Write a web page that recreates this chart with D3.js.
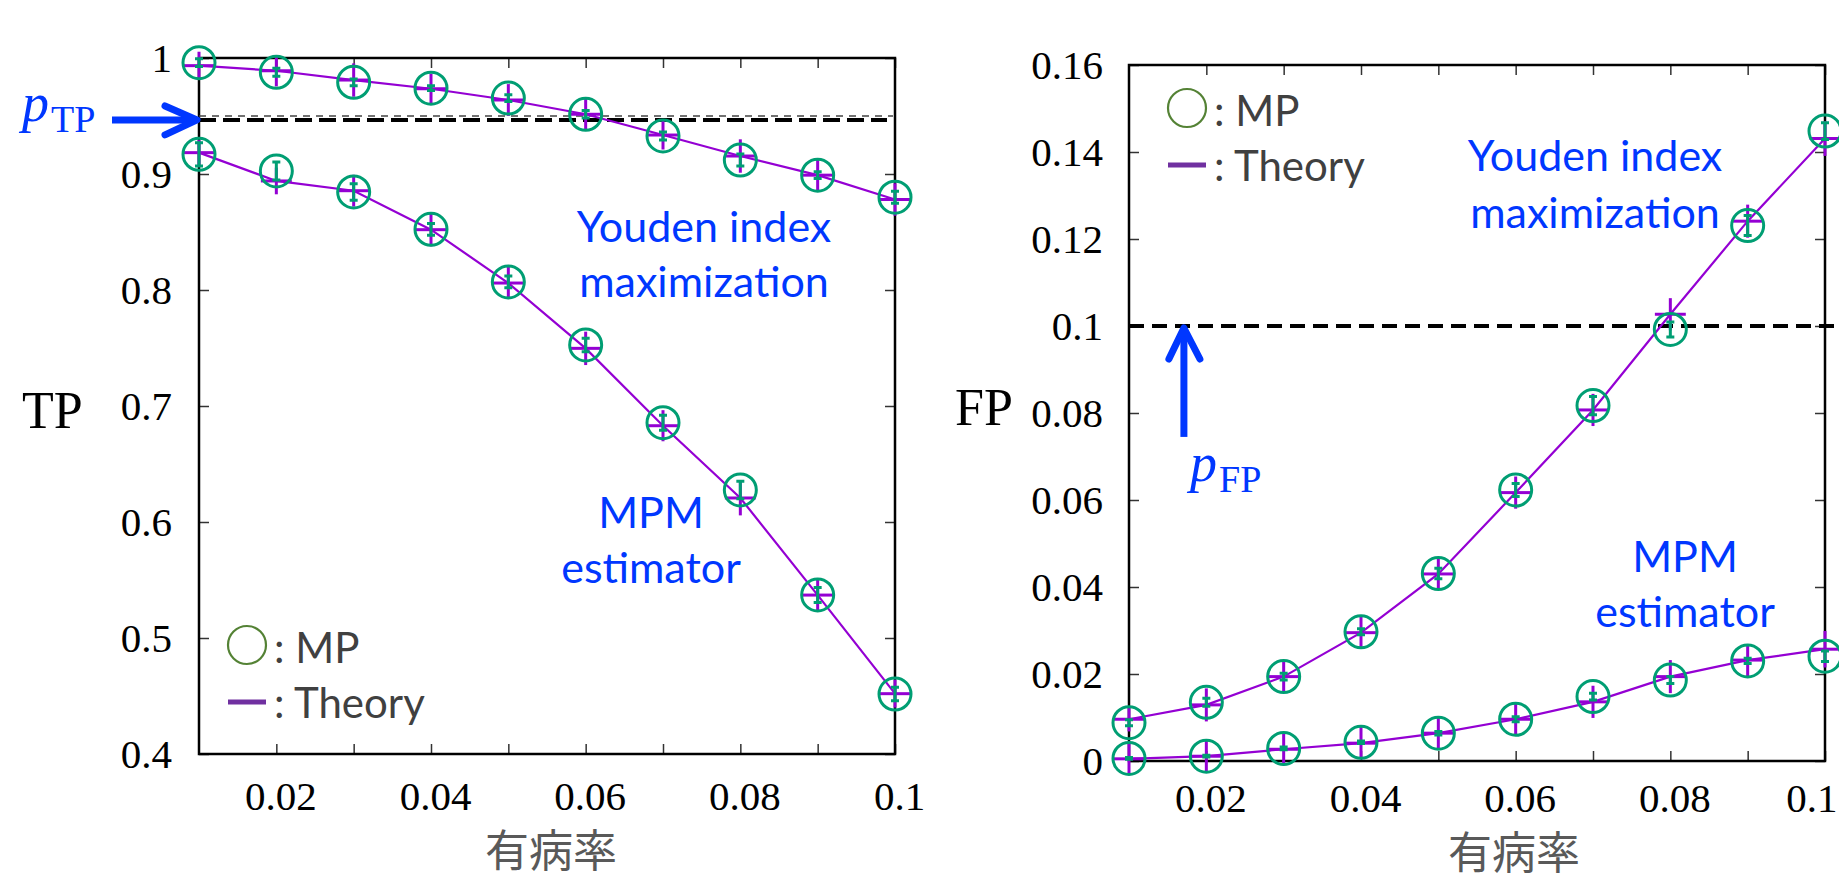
<!DOCTYPE html>
<html><head><meta charset="utf-8">
<script src="https://cdn.jsdelivr.net/npm/d3@7"></script>
<style>body{margin:0;background:#fff} svg{display:block}</style>
</head><body><svg id="c" width="1839" height="883"></svg>
<script>
// ---------- data ----------
const prevalence = [0.01,0.02,0.03,0.04,0.05,0.06,0.07,0.08,0.09,0.10];
const xTickValues = [0.02,0.03,0.04,0.05,0.06,0.07,0.08,0.09,0.1];
const xLabelValues = [0.02,0.04,0.06,0.08,0.1];
const tpTicks = [0.4,0.5,0.6,0.7,0.8,0.9,1];
const fpTicks = [0,0.02,0.04,0.06,0.08,0.1,0.12,0.14,0.16];
const xAxisTitle = "有病率";
const theoryXErr = 0.002;
const pTP = 0.95, pTPmarked = 0.9466, pFP = 0.1;

// TP – Youden index maximization
const tpYoudenMP        = [0.996,0.9877,0.979,0.974,0.9655,0.9515,0.9328,0.912,0.899,0.880];
const tpYoudenMPErr     = [0.0034,0.0034,0.0029,0.002,0.0029,0.0032,0.0034,0.0052,0.0029,0.0052];
const tpYoudenTheory    = [0.9934,0.989,0.981,0.9735,0.9638,0.9515,0.9336,0.9155,0.899,0.878];
const tpYoudenTheoryErr = [0.012,0.0135,0.0144,0.013,0.0137,0.0137,0.0125,0.0144,0.014,0.014];
// TP – MPM estimator
const tpMpmMP        = [0.917,0.9026,0.8845,0.8523,0.807,0.7526,0.6856,0.6276,0.5371,0.4517];
const tpMpmMPErr     = [0.01,0.0078,0.0072,0.005,0.005,0.0058,0.0065,0.0075,0.0065,0.0058];
const tpMpmTheory    = [0.9184,0.894,0.8856,0.852,0.806,0.7497,0.683,0.6207,0.537,0.452];
const tpMpmTheoryErr = [0.0108,0.0115,0.0137,0.0144,0.0138,0.0144,0.0134,0.015,0.013,0.012];
// FP – Youden index maximization
const fpYoudenMP        = [0.0088,0.0135,0.0194,0.0297,0.0431,0.0623,0.0817,0.0992,0.1231,0.1448];
const fpYoudenMPErr     = [0.0007,0.0009,0.0008,0.0007,0.0012,0.0015,0.0021,0.0017,0.0023,0.0019];
const fpYoudenTheory    = [0.0096,0.0129,0.0194,0.0295,0.043,0.0617,0.0807,0.1027,0.1241,0.1431];
const fpYoudenTheoryErr = [0.0028,0.0038,0.0037,0.0037,0.0037,0.0037,0.0037,0.0037,0.0038,0.004];
// FP – MPM estimator
const fpMpmMP        = [0.0006,0.0011,0.0029,0.0043,0.0064,0.0096,0.0148,0.0186,0.0230,0.0241];
const fpMpmMPErr     = [0.0002,0.0002,0.0003,0.0003,0.0004,0.0006,0.0008,0.0008,0.0006,0.0012];
const fpMpmTheory    = [0.0005,0.0011,0.0027,0.0041,0.0064,0.0096,0.0136,0.0194,0.0232,0.0257];
const fpMpmTheoryErr = [0.0037,0.0037,0.0037,0.0037,0.0037,0.0037,0.0037,0.0038,0.0037,0.0042];

// ---------- styles ----------
const PURPLE = "#9400d3", GREEN = "#009e73", BLUE = "#0037ff";
const SERIF = "'Liberation Serif','Times New Roman',serif";
const SANS = "Lato,'Open Sans',sans-serif";
const svg = d3.select("#c");
svg.append("rect").attr("width",1839).attr("height",883).attr("fill","#fff");

function panel(cfg){
  const x = d3.scaleLinear().domain([0.01,0.1]).range(cfg.xr);
  const y = d3.scaleLinear().domain(cfg.dom).range(cfg.yr);
  const g = svg.append("g");
  const [X0,X1] = cfg.xr, [Y1,Y0] = cfg.yr;

  // axes (inward ticks)
  const fmt = d => xLabelValues.some(v=>Math.abs(v-d)<1e-9) ? d3.format("")(+d.toFixed(2)) : "";
  const ax = g.append("g").attr("transform",`translate(0,${Y1})`)
    .call(d3.axisBottom(x).tickValues(xTickValues).tickSize(-10).tickSizeOuter(0).tickFormat(fmt));
  ax.selectAll("text").attr("y",cfg.xLabY).attr("dy",0).attr("dx",4);
  if (cfg.lastLabelEnd) {
    ax.selectAll(".tick").filter(d=>Math.abs(d-0.1)<1e-9).select("text")
      .attr("text-anchor","end").attr("dx",0).attr("x",cfg.lastLabelEnd - x(0.1));
  }
  g.append("g").attr("transform",`translate(0,${Y0})`)
    .call(d3.axisTop(x).tickValues(xTickValues).tickSize(-10).tickSizeOuter(0).tickFormat(""));
  const ay = g.append("g").attr("transform",`translate(${X0},0)`)
    .call(d3.axisLeft(y).tickValues(cfg.ticks).tickSize(-10).tickSizeOuter(0).tickFormat(d=>d3.format("")(+d.toFixed(2))));
  ay.selectAll("text").attr("x",cfg.labX).attr("dy","0.34em");
  g.append("g").attr("transform",`translate(${X1},0)`)
    .call(d3.axisRight(y).tickValues(cfg.ticks).tickSize(-10).tickSizeOuter(0).tickFormat(""));
  g.selectAll(".domain").remove();
  g.selectAll(".tick line").attr("stroke","#333").attr("stroke-width",1.5);
  g.selectAll(".tick text").attr("font-family",SERIF).attr("font-size",41).attr("fill","#000");
  g.append("rect").attr("x",X0).attr("y",Y0).attr("width",X1-X0).attr("height",Y1-Y0)
    .attr("fill","none").attr("stroke","#000").attr("stroke-width",2.5);

  // reference dashed lines
  cfg.refs.forEach(r=>{
    g.append("line").attr("x1",X0).attr("x2",r.x2).attr("y1",y(r.v)).attr("y2",y(r.v))
      .attr("stroke",r.color).attr("stroke-width",r.w).attr("stroke-dasharray",r.dash);
  });

  // series
  cfg.series.forEach(s=>{
    const pts = prevalence.map((p,i)=>({p, th:s.th[i], thE:s.thE[i], mp:s.mp[i], mpE:s.mpE[i]}));
    g.append("path").datum(pts).attr("fill","none").attr("stroke",PURPLE).attr("stroke-width",2.2)
      .attr("d",d3.line().x(d=>x(d.p)).y(d=>y(d.th)));
    const th = g.append("g").attr("stroke",PURPLE).attr("stroke-width",3);
    th.selectAll(".v").data(pts).join("line")
      .attr("x1",d=>x(d.p)).attr("x2",d=>x(d.p)).attr("y1",d=>y(d.th-d.thE)).attr("y2",d=>y(d.th+d.thE));
    th.selectAll(".h").data(pts).join("line")
      .attr("x1",d=>x(d.p-theoryXErr)).attr("x2",d=>x(d.p+theoryXErr)).attr("y1",d=>y(d.th)).attr("y2",d=>y(d.th));
    const mp = g.append("g").attr("stroke",GREEN).attr("stroke-width",3).attr("fill","none");
    mp.selectAll("circle").data(pts).join("circle").attr("cx",d=>x(d.p)).attr("cy",d=>y(d.mp)).attr("r",16);
    mp.selectAll(".ev").data(pts).join("path")
      .attr("d",d=>{const cx=x(d.p), a=y(d.mp+d.mpE), b=y(d.mp-d.mpE);
        return `M${cx-4},${a}H${cx+4}M${cx},${a}V${b}M${cx-4},${b}H${cx+4}`;});
  });
  return {x,y,g};
}

// ---------- left panel: TP ----------
const L = panel({xr:[199,895], yr:[754,58], dom:[0.4,1], ticks:tpTicks, labX:-27, xLabY:56,
  refs:[{v:pTP,x2:893,color:"#444",w:1.3,dash:"7,6"},{v:pTPmarked,x2:887,color:"#000",w:4,dash:"17,7"}],
  series:[{mp:tpYoudenMP,mpE:tpYoudenMPErr,th:tpYoudenTheory,thE:tpYoudenTheoryErr},
          {mp:tpMpmMP,mpE:tpMpmMPErr,th:tpMpmTheory,thE:tpMpmTheoryErr}]});
// ---------- right panel: FP ----------
const R = panel({xr:[1129,1825], yr:[761,65], dom:[0,0.16], ticks:fpTicks, labX:-26, xLabY:51, lastLabelEnd:1837,
  refs:[{v:pFP,x2:1839,color:"#000",w:4,dash:"15,8"}],
  series:[{mp:fpYoudenMP,mpE:fpYoudenMPErr,th:fpYoudenTheory,thE:fpYoudenTheoryErr},
          {mp:fpMpmMP,mpE:fpMpmMPErr,th:fpMpmTheory,thE:fpMpmTheoryErr}]});

// ---------- axis titles ----------
svg.append("text").attr("x",22).attr("y",428).attr("font-family",SERIF).attr("font-size",52).text("TP");
svg.append("text").attr("x",955).attr("y",425).attr("font-family",SERIF).attr("font-size",52).text("FP");
svg.append("text").attr("x",551).attr("y",867).attr("text-anchor","middle")
  .attr("font-family","'Noto Sans CJK JP',sans-serif").attr("font-size",44).attr("fill","#595959").text(xAxisTitle);
svg.append("text").attr("x",1514).attr("y",869).attr("text-anchor","middle")
  .attr("font-family","'Noto Sans CJK JP',sans-serif").attr("font-size",44).attr("fill","#595959").text(xAxisTitle);

// ---------- legends ----------
function legend(cx, cy, ly){
  svg.append("circle").attr("cx",cx).attr("cy",cy).attr("r",19).attr("fill","none").attr("stroke","#548235").attr("stroke-width",2.2);
  svg.append("text").attr("x",cx+27).attr("y",cy+18).attr("font-family",SANS).attr("font-size",42).attr("fill","#404040").text(": MP");
  svg.append("line").attr("x1",cx-19).attr("x2",cx+19).attr("y1",ly).attr("y2",ly).attr("stroke","#7030a0").attr("stroke-width",5);
  svg.append("text").attr("x",cx+27).attr("y",ly+16).attr("font-family",SANS).attr("font-size",42).attr("fill","#404040").text(": Theory");
}
legend(247,645,702);
legend(1187,108,165);

// ---------- annotations ----------
function twoLines(cx, y1, y2, a, b){
  [[a,y1],[b,y2]].forEach(([t,yy])=>svg.append("text").attr("x",cx).attr("y",yy).attr("text-anchor","middle")
    .attr("font-family",SANS).attr("font-size",43).attr("fill",BLUE).text(t));
}
twoLines(704,242,297,"Youden index","maximization");
twoLines(651,528,583,"MPM","estimator");
twoLines(1595,171,228,"Youden index","maximization");
twoLines(1685,572,627,"MPM","estimator");

// p_TP arrow (horizontal, pointing to dashed line)
const aL = svg.append("g").attr("stroke",BLUE).attr("stroke-width",7).attr("stroke-linecap","round").attr("fill","none");
const tipL = [L.x(0.01)-2, L.y(pTPmarked)];
aL.append("line").attr("x1",112).attr("x2",tipL[0]-2).attr("y1",tipL[1]).attr("y2",tipL[1]).attr("stroke-linecap","butt");
aL.append("path").attr("d",`M${tipL[0]-32},${tipL[1]-14}L${tipL[0]},${tipL[1]}L${tipL[0]-32},${tipL[1]+15}`).attr("stroke-linejoin","round");
const pt = svg.append("text").attr("x",22).attr("y",121).attr("fill",BLUE).attr("font-family",SERIF);
pt.append("tspan").attr("font-style","italic").attr("font-size",54).text("p");
pt.append("tspan").attr("font-size",38).attr("dy",11).attr("dx",2).text("TP");

// p_FP arrow (vertical)
const aR = svg.append("g").attr("stroke",BLUE).attr("stroke-width",7).attr("stroke-linecap","round").attr("fill","none");
const tipR = [R.x(0.0171), R.y(pFP)+2];
aR.append("line").attr("x1",tipR[0]).attr("x2",tipR[0]).attr("y1",R.y(0.0745)).attr("y2",tipR[1]+3).attr("stroke-linecap","butt");
aR.append("path").attr("d",`M${tipR[0]-15},${tipR[1]+31}L${tipR[0]},${tipR[1]}L${tipR[0]+16},${tipR[1]+31}`).attr("stroke-linejoin","round");
const pf = svg.append("text").attr("x",1190).attr("y",481).attr("fill",BLUE).attr("font-family",SERIF);
pf.append("tspan").attr("font-style","italic").attr("font-size",54).text("p");
pf.append("tspan").attr("font-size",38).attr("dy",11).attr("dx",2).text("FP");
</script></body></html>
